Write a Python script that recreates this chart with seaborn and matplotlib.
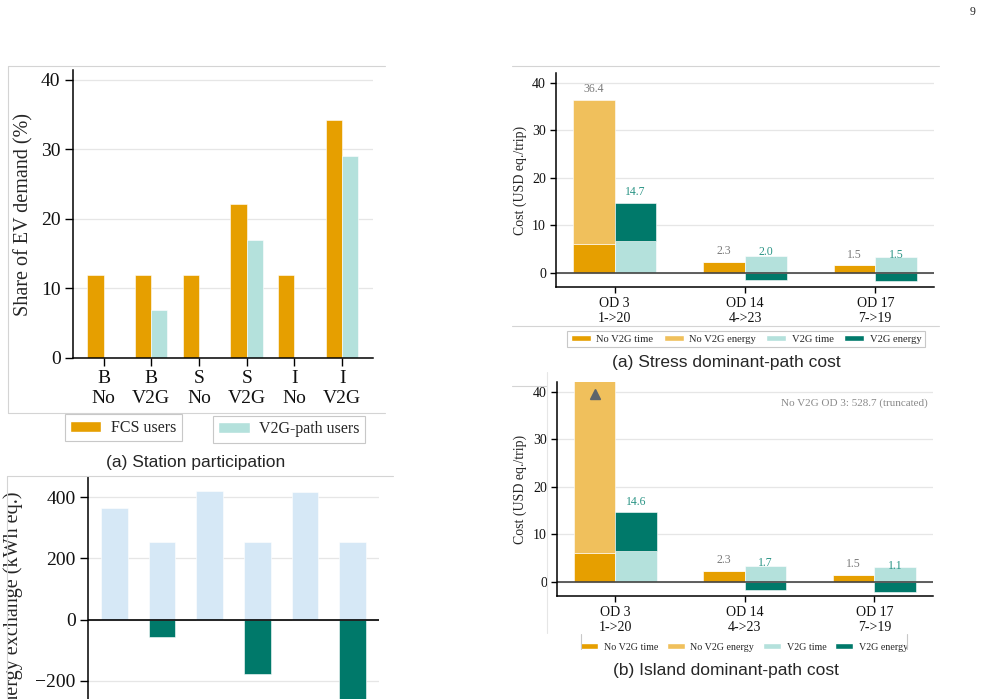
import matplotlib
matplotlib.use('Agg')
import numpy as np
import pandas as pd
import matplotlib.pyplot as plt
from matplotlib.lines import Line2D
from matplotlib.patches import Patch
import seaborn as sns

# (a) station participation, share of EV demand (%)
scenarios = ['B\nNo', 'B\nV2G', 'S\nNo', 'S\nV2G', 'I\nNo', 'I\nV2G']
fcs_share = [12.0, 12.0, 12.0, 22.1, 12.0, 34.2]
v2g_share = [0.0, 6.9, 0.0, 17.0, 0.0, 29.0]

# energy exchange panel (cut by the page bottom)
energy_charge = [365, 254, 420, 255, 416, 255]
energy_discharge = [0, -58, 0, -177, 0, -300]

# dominant-path cost, USD eq./trip
od_labels = ['OD 3\n1->20', 'OD 14\n4->23', 'OD 17\n7->19']
stress_nov2g_time = [6.0, 2.3, 1.5]
stress_nov2g_energy = [30.4, 0.0, 0.0]
stress_v2g_time = [6.6, 3.5, 3.2]
stress_v2g_energy = [8.1, -1.5, -1.7]
island_nov2g_time = [6.0, 2.3, 1.5]
island_nov2g_energy = [522.7, 0.0, 0.0]
island_v2g_time = [6.5, 3.4, 3.2]
island_v2g_energy = [8.1, -1.7, -2.1]

ORANGE = '#E69F00'
LORANGE = '#F0C05C'
LTEAL = '#B4E1DC'
TEAL = '#00796A'
LBLUE = '#D6E8F6'
GRID = '#e6e6e6'
FRAME = '#d4d4d4'

sns.set_theme(style='ticks')
plt.rcParams['font.family'] = ['Liberation Serif', 'DejaVu Serif']
plt.rcParams['axes.unicode_minus'] = True

W, H = 983, 699
fig = plt.figure(figsize=(W / 100, H / 100), dpi=100)
fig.patch.set_facecolor('white')


def px_axes(l, t, r, b):
    return fig.add_axes([l / W, 1 - b / H, (r - l) / W, (b - t) / H])


def fline(x0, y0, x1, y1, color=FRAME, lw=0.8):
    fig.add_artist(Line2D([x0 / W, x1 / W], [1 - y0 / H, 1 - y1 / H],
                          transform=fig.transFigure, color=color, lw=lw))


def style_axes(ax, fs, ticklen):
    sns.despine(ax=ax)
    ax.set_axisbelow(True)
    ax.yaxis.grid(True, color=GRID, lw=0.9)
    ax.xaxis.grid(False)
    for s in ['left', 'bottom']:
        ax.spines[s].set_color('black')
        ax.spines[s].set_linewidth(1.1)
    ax.tick_params(axis='both', direction='out', length=ticklen, width=1,
                   color='black', labelsize=fs, labelcolor='#111111', pad=3)
    ax.set_xlabel('')


# frame lines of the page panels
fline(8, 66, 385, 66)
fline(8, 66, 8, 413)
fline(8, 413, 385, 413)
fline(7, 476, 393, 476)
fline(7, 476, 7, 699)
fline(512, 66, 939, 66)
fline(512, 325.7, 939, 325.7)
fline(512, 386, 547, 386)
fline(547.3, 372, 547.3, 633, color='#e6e6e6')

# ---- (a) station participation
ax1 = px_axes(73, 70, 372.7, 358)
share_df = pd.DataFrame({
    'scenario': scenarios * 2,
    'share': fcs_share + v2g_share,
    'group': ['FCS users'] * 6 + ['V2G-path users'] * 6,
})
sns.barplot(data=share_df, x='scenario', y='share', hue='group',
            palette=[ORANGE, LTEAL], width=0.68, saturation=1, errorbar=None,
            legend=False, edgecolor='white', linewidth=0.4, ax=ax1)
ax1.set_xlim(-0.64, 5.64)
ax1.set_ylim(0, 41.4)
ax1.set_yticks([0, 10, 20, 30, 40])
style_axes(ax1, 14, 6)
ax1.set_ylabel('Share of EV demand (%)', fontsize=14.5, va='center')
ax1.yaxis.set_label_coords((23.5 - 73) / 299.7, 0.5)

leg_kw = dict(fontsize=11.5, frameon=True, fancybox=False, framealpha=1,
              edgecolor='#c8c8c8', handlelength=1.95, handleheight=0.7,
              handletextpad=0.6, borderpad=0.35, loc='center')
lg1 = fig.legend([Patch(facecolor=ORANGE)], ['FCS users'],
                 bbox_to_anchor=(123.3 / W, 1 - 427.7 / H), **leg_kw)
lg2 = fig.legend([Patch(facecolor=LTEAL)], ['V2G-path users'],
                 bbox_to_anchor=(289 / W, 1 - 429.2 / H), **leg_kw)
for lg in (lg1, lg2):
    lg.get_frame().set_linewidth(0.8)

fig.text(196 / W, 1 - 463 / H, '(a) Station participation', ha='center',
         va='center', fontsize=12.5, family='Liberation Sans')

# ---- energy exchange panel (bottom left), its x labels fall below the page
ax2 = px_axes(88.3, 476.7, 379, 748.4)
sns.barplot(x=scenarios, y=energy_charge, color=LBLUE, width=0.56,
            saturation=1, errorbar=None, edgecolor='white', linewidth=0.4, ax=ax2)
sns.barplot(x=scenarios, y=energy_discharge, color=TEAL, width=0.56,
            saturation=1, errorbar=None, edgecolor='white', linewidth=0.4, ax=ax2)
ax2.set_xlim(-0.545, 5.55)
ax2.set_ylim(-420, 466.5)
ax2.set_yticks([-200, 0, 200, 400])
style_axes(ax2, 14, 6)
ax2.tick_params(axis='x', bottom=False, labelbottom=False)
ax2.axhline(0, color='black', lw=1.2)
ax2.set_ylabel('Energy exchange (kWh eq.)', fontsize=14.5, va='center')
ax2.yaxis.set_label_coords((13 - 88.3) / 290.7, 0.53)

# ---- cost panels


def cost_panel(box, ylim, nov_time, nov_energy, v_time, v_energy, truncated):
    ax = px_axes(*box)
    df = pd.DataFrame({
        'od': od_labels * 2,
        'time': nov_time + v_time,
        'case': ['No V2G'] * 3 + ['V2G'] * 3,
    })
    sns.barplot(data=df, x='od', y='time', hue='case', hue_order=['No V2G', 'V2G'],
                palette=[ORANGE, LTEAL], width=0.64, saturation=1, errorbar=None,
                legend=False, edgecolor='white', linewidth=0.4, ax=ax)
    xs = np.arange(len(od_labels))
    nb = [t if e >= 0 else 0 for t, e in zip(nov_time, nov_energy)]
    vb = [t if e >= 0 else 0 for t, e in zip(v_time, v_energy)]
    ax.bar(xs - 0.16, nov_energy, 0.32, bottom=nb, color=LORANGE,
           edgecolor='white', linewidth=0.4)
    ax.bar(xs + 0.16, v_energy, 0.32, bottom=vb, color=TEAL,
           edgecolor='white', linewidth=0.4)
    ax.set_xlim(-0.453, 2.453)
    ax.set_ylim(*ylim)
    ax.set_yticks([0, 10, 20, 30, 40])
    style_axes(ax, 10, 4)
    ax.axhline(0, color='#444444', lw=1.2)
    ax.set_ylabel('Cost (USD eq./trip)', fontsize=10, va='center')
    ax.yaxis.set_label_coords((520.5 - box[0]) / (box[2] - box[0]), 0.5)
    for i in range(len(od_labels)):
        ntot = nov_time[i] + nov_energy[i]
        vtot = v_time[i] + v_energy[i]
        if not (truncated and i == 0):
            ax.text(i - 0.16, ntot + 2.3, f'{ntot:.1f}', ha='center', va='center',
                    fontsize=8.5, color='#7a7a7a')
        ax.text(i + 0.16, vtot + 2.3, f'{vtot:.1f}', ha='center', va='center',
                fontsize=8.5, color='#2a9485')
    if truncated:
        ax.plot([-0.16], [39.5], marker='^', ms=7, color='#5c646b', ls='none')
        ntot = nov_time[0] + nov_energy[0]
        ax.text(2.41, 37.6, f'No V2G OD 3: {ntot:.1f} (truncated)', ha='right',
                va='center', fontsize=8, color='#8a8a8a')
    return ax


cost_handles = [Patch(facecolor=c) for c in [ORANGE, LORANGE, LTEAL, TEAL]]
cost_names = ['No V2G time', 'No V2G energy', 'V2G time', 'V2G energy']
cleg_kw = dict(ncol=4, fancybox=False, framealpha=1, handleheight=0.6,
               handletextpad=0.55, borderpad=0.35, loc='upper center',
               bbox_transform=fig.transFigure)

ax3 = cost_panel((555.7, 73.3, 934.3, 287.3), (-3.1, 42), stress_nov2g_time,
                 stress_nov2g_energy, stress_v2g_time, stress_v2g_energy, False)
lg3 = ax3.legend(cost_handles, cost_names, bbox_to_anchor=(746 / W, 1 - 325.7 / H),
                 frameon=True, edgecolor='#c8c8c8', fontsize=7.6,
                 handlelength=1.9, columnspacing=0.95, **cleg_kw)
lg3.get_frame().set_linewidth(0.8)
fig.text(726 / W, 1 - 363 / H, '(a) Stress dominant-path cost', ha='center',
         va='center', fontsize=12.5, family='Liberation Sans')

ax4 = cost_panel((556.7, 382, 933, 596), (-3.0, 42.1), island_nov2g_time,
                 island_nov2g_energy, island_v2g_time, island_v2g_energy, True)
ax4.legend(cost_handles, cost_names, bbox_to_anchor=(744 / W, 1 - 634 / H),
           frameon=False, fontsize=7.2, handlelength=1.8, columnspacing=0.9,
           **cleg_kw)
fline(580.5, 634, 580.5, 649, color='#c8c8c8')
fline(907, 634, 907, 649, color='#c8c8c8')
fig.text(726 / W, 1 - 670 / H, '(b) Island dominant-path cost', ha='center',
         va='center', fontsize=12.5, family='Liberation Sans')

fig.text(973 / W, 1 - 12 / H, '9', ha='center', va='center', fontsize=8.5)

fig.savefig('out.png', dpi=100)
